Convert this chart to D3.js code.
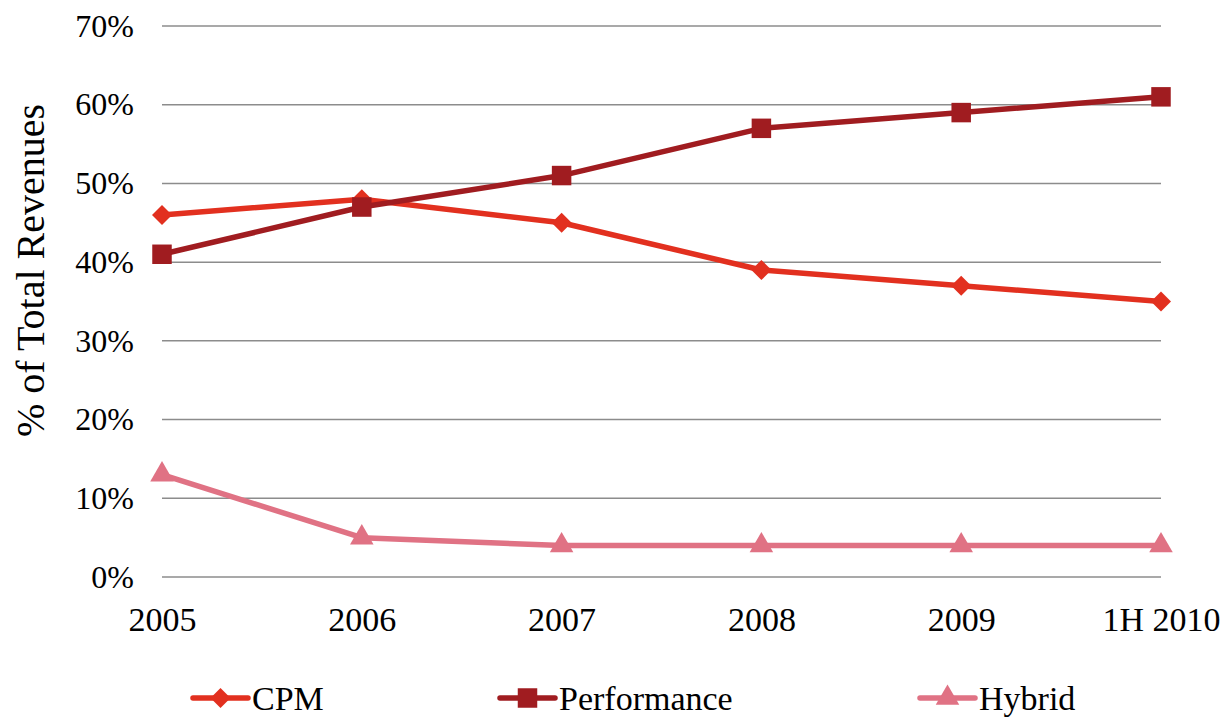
<!DOCTYPE html>
<html>
<head>
<meta charset="utf-8">
<script src="https://cdn.jsdelivr.net/npm/d3@7"></script>
<style>
  html, body { margin: 0; padding: 0; background: #fff; }
  svg text { font-family: "Liberation Serif", "Times New Roman", serif; fill: #000; }
</style>
</head>
<body>
<svg id="chart" width="1230" height="717"></svg>
<script>
// Revenue mix by pricing model
const years = ["2005", "2006", "2007", "2008", "2009", "1H 2010"];
const cpm = [46, 48, 45, 39, 37, 35];
const performance = [41, 47, 51, 57, 59, 61];
const hybrid = [13, 5, 4, 4, 4, 4];
const yTicks = [0, 10, 20, 30, 40, 50, 60, 70];

const series = [
  { name: "CPM", values: cpm, color: "#e2301f", symbol: d3.symbolSquare, size: 200, rotate: 45 },
  { name: "Performance", values: performance, color: "#a01c20", symbol: d3.symbolSquare, size: 380, rotate: 0 },
  { name: "Hybrid", values: hybrid, color: "#e07284", symbol: d3.symbolTriangle, size: 240, rotate: 0 }
];

const svg = d3.select("#chart");
const plot = { left: 162, right: 1161, top: 26, bottom: 577 };

const x = d3.scalePoint().domain(years).range([plot.left, plot.right]).padding(0);
const y = d3.scaleLinear().domain([0, 70]).range([plot.bottom, plot.top]);

// Gridlines
svg.append("g")
  .selectAll("line")
  .data(yTicks)
  .join("line")
  .attr("x1", plot.left).attr("x2", plot.right)
  .attr("y1", d => y(d)).attr("y2", d => y(d))
  .attr("stroke", "#8c8c8c")
  .attr("stroke-width", 1.5);

// Y axis labels
const yAxis = svg.append("g")
  .attr("transform", `translate(${plot.left},0)`)
  .call(d3.axisLeft(y).tickValues(yTicks).tickFormat(d => d + "%").tickSize(0).tickPadding(28));
yAxis.select(".domain").remove();
yAxis.selectAll("text").attr("font-size", 32).attr("font-family", "Liberation Serif, serif").attr("dy", "0.32em");

// X axis labels
const xAxis = svg.append("g")
  .attr("transform", `translate(0,${plot.bottom})`)
  .call(d3.axisBottom(x).tickSize(0).tickPadding(30));
xAxis.select(".domain").remove();
xAxis.selectAll("text").attr("font-size", 34).attr("font-family", "Liberation Serif, serif");

// Y axis title
svg.append("text")
  .attr("transform", `translate(44,${(plot.top + plot.bottom) / 2 - 31}) rotate(-90)`)
  .attr("text-anchor", "middle")
  .attr("font-size", 40)
  .text("% of Total Revenues");

const line = d3.line().x((d, i) => x(years[i])).y(d => y(d));

series.forEach(s => {
  svg.append("path")
    .datum(s.values)
    .attr("d", line)
    .attr("fill", "none")
    .attr("stroke", s.color)
    .attr("stroke-width", 5.5)
    .attr("stroke-linejoin", "round");
});

series.forEach(s => {
  svg.append("g")
    .selectAll("path")
    .data(s.values)
    .join("path")
    .attr("transform", (d, i) => `translate(${x(years[i])},${y(d)}) rotate(${s.rotate})`)
    .attr("d", d3.symbol().type(s.symbol).size(s.size))
    .attr("fill", s.color);
});

// Legend
const legendX = [193, 500, 920];
const legendY = 698;
series.forEach((s, i) => {
  const g = svg.append("g").attr("transform", `translate(${legendX[i]},${legendY})`);
  g.append("line")
    .attr("x1", 0).attr("x2", 55)
    .attr("stroke", s.color).attr("stroke-width", 5.5).attr("stroke-linecap", "round");
  g.append("path")
    .attr("transform", `translate(27.5,0) rotate(${s.rotate})`)
    .attr("d", d3.symbol().type(s.symbol).size(s.size))
    .attr("fill", s.color);
  g.append("text")
    .attr("x", 59)
    .attr("dy", "0.35em")
    .attr("font-size", 34)
    .text(s.name);
});
</script>
</body>
</html>
